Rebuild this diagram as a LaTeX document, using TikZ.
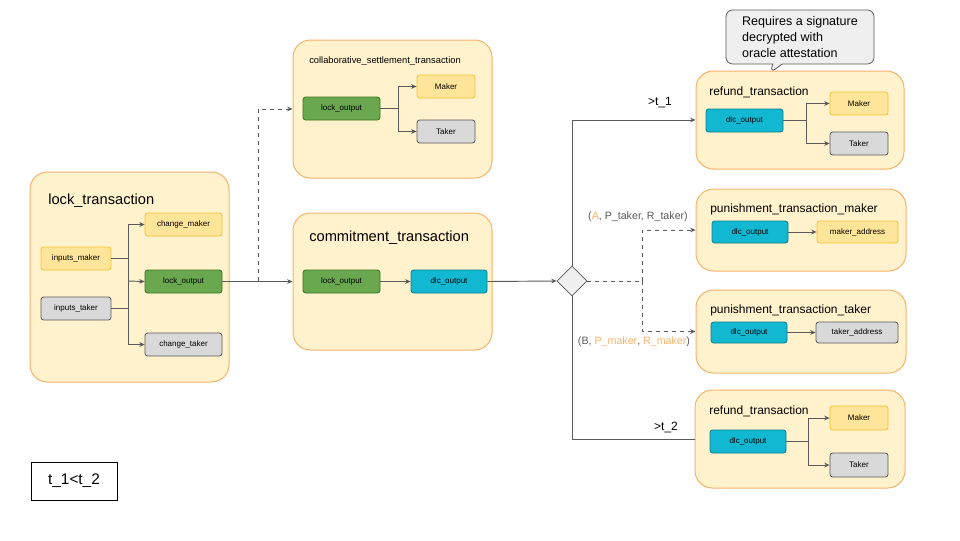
\documentclass[tikz,border=0pt]{standalone}
\usepackage{fontspec}
\setmainfont{Liberation Sans}
\usetikzlibrary{arrows.meta,fit,shapes.geometric,shapes.callouts}

\definecolor{txfill}{HTML}{FFF2CC}
\definecolor{txline}{HTML}{F6B26B}
\definecolor{yelfill}{HTML}{FFE599}
\definecolor{yelline}{HTML}{F1C232}
\definecolor{grayfill}{HTML}{D9D9D9}
\definecolor{darkline}{HTML}{595959}
\definecolor{greenfill}{HTML}{6AA84F}
\definecolor{greenline}{HTML}{38761D}
\definecolor{cyanfill}{HTML}{12B8D2}
\definecolor{cyanline}{HTML}{0B7E8E}
\definecolor{notefill}{HTML}{EFEFEF}

\begin{document}
\begin{tikzpicture}[x=0.75pt, y=-0.75pt,
    every label/.style={inner sep=0pt, font=\fontsize{6}{7}\selectfont},
    txbox/.style={draw=txline, fill=txfill, line width=0.75pt, rounded corners=13pt, inner sep=0pt},
    outbox/.style={rounded corners=2pt, line width=0.6pt, inner sep=0pt},
    yelbox/.style={outbox, draw=yelline, fill=yelfill},
    graybox/.style={outbox, draw=darkline, fill=grayfill},
    greenbox/.style={outbox, draw=greenline, fill=greenfill},
    cyanbox/.style={outbox, draw=cyanline, fill=cyanfill},
    bigtitle/.style={anchor=west, inner sep=0pt, font=\fontsize{11}{13}\selectfont},
    midtitle/.style={anchor=west, inner sep=0pt, font=\fontsize{9}{11}\selectfont},
    arr/.style={draw=darkline, line width=0.7pt, -{Stealth[length=4pt,width=3.5pt]}},
    plain/.style={draw=darkline, line width=0.7pt},
    cond/.style={inner sep=0pt, text=darkline, font=\fontsize{8}{10}\selectfont}
]
    \useasboundingbox (0,0) rectangle (960,540);

    % LEFT: lock transaction
    \node[txbox, fit={(30,172) (229,382)}] (lock) {};
    \node[bigtitle] (locktitle) at (48,201) {lock\_transaction};
    \node[yelbox, fit={(41,247) (111,270)}, label=center:inputs\_maker] (im) {};
    \node[graybox, fit={(41,297) (111,320)}, label=center:inputs\_taker] (it) {};
    \node[yelbox, fit={(145,213) (222,236)}, label=center:change\_maker] (cm) {};
    \node[greenbox, fit={(145,270) (222,293)}, label=center:lock\_output] (lo) {};
    \node[graybox, fit={(145,333) (222,356)}, label=center:change\_taker] (ct) {};
    \coordinate (lbr) at (128,281);
    \draw[plain] (im.east) -- (im.east -| lbr);
    \draw[plain] (it.east) -- (it.east -| lbr);
    \draw[arr] (lbr) |- (cm.west);
    \draw[arr] (lbr) -- (lo.west);
    \draw[arr] (lbr) |- (ct.west);

    % MIDDLE: collaborative settlement
    \node[txbox, fit={(293,40) (492,178)}] (collab) {};
    \node[anchor=west, inner sep=0pt, font=\fontsize{7}{8}\selectfont] (collabtitle) at (309,61) {collaborative\_settlement\_transaction};
    \node[greenbox, fit={(303,97) (380,120)}, label=center:lock\_output] (colo) {};
    \node[yelbox, fit={(417,75) (475,98)}, label=center:Maker] (comaker) {};
    \node[graybox, fit={(417,120) (475,143)}, label=center:Taker] (cotaker) {};
    \coordinate (cobr) at (398,108.5);
    \draw[plain] (colo.east) -- (cobr);
    \draw[arr] (cobr) |- (comaker.west);
    \draw[arr] (cobr) |- (cotaker.west);

    % MIDDLE: commitment
    \node[txbox, fit={(293,213) (492,350)}] (commit) {};
    \node[bigtitle] (committitle) at (309,238) {commitment\_transaction};
    \node[greenbox, fit={(303,270) (380,293)}, label=center:lock\_output] (cmlo) {};
    \node[cyanbox, fit={(411,270) (487,293)}, label=center:dlc\_output] (cmdlc) {};
    \draw[arr] (cmlo) -- (cmdlc);

    % lock -> commitment / collaborative
    \coordinate (dsplit) at (258,281);
    \draw[arr] (lo.east) -- (lo.east -| commit.west);
    \draw[arr, dashed] (dsplit) |- (collab.west);

    % decision
    \node[diamond, draw=darkline, fill=notefill, line width=0.6pt, inner sep=0pt,
          minimum width=22.5pt, minimum height=22.5pt] (dec) at (572,281) {};
    \draw[arr] (cmdlc.east) -- (dec.west);

    % RIGHT: refund 1
    \node[txbox, fit={(696,71) (904,169)}] (ref1) {};
    \node[midtitle] (ref1title) at (709,92) {refund\_transaction};
    \node[cyanbox, fit={(706,109) (783,132)}, label=center:dlc\_output] (r1dlc) {};
    \node[yelbox, fit={(830,92) (888,115)}, label=center:Maker] (r1maker) {};
    \node[graybox, fit={(830,132) (888,155)}, label=center:Taker] (r1taker) {};
    \coordinate (r1br) at (806,120.5);
    \draw[plain] (r1dlc.east) -- (r1br);
    \draw[arr] (r1br) |- (r1maker.west);
    \draw[arr] (r1br) |- (r1taker.west);

    % RIGHT: punishment maker
    \node[txbox, fit={(696,189) (906,271)}] (pm) {};
    \node[midtitle] (pmtitle) at (710,209) {punishment\_transaction\_maker};
    \node[cyanbox, fit={(712,221) (788,243)}, label=center:dlc\_output] (pmdlc) {};
    \node[yelbox, fit={(817,221) (898,243)}, label=center:maker\_address] (pmaddr) {};
    \draw[arr] (pmdlc) -- (pmaddr);

    % RIGHT: punishment taker
    \node[txbox, fit={(696,290) (906,373)}] (pt) {};
    \node[midtitle] (pttitle) at (710,310) {punishment\_transaction\_taker};
    \node[cyanbox, fit={(711,322) (787,343)}, label=center:dlc\_output] (ptdlc) {};
    \node[graybox, fit={(816,322) (898,343)}, label=center:taker\_address] (ptaddr) {};
    \draw[arr] (ptdlc) -- (ptaddr);

    % RIGHT: refund 2
    \node[txbox, fit={(695,390) (905,488)}] (ref2) {};
    \node[midtitle] (ref2title) at (709,411) {refund\_transaction};
    \node[cyanbox, fit={(710,430) (786,453)}, label=center:dlc\_output] (r2dlc) {};
    \node[yelbox, fit={(830,406) (888,430)}, label=center:Maker] (r2maker) {};
    \node[graybox, fit={(830,453) (888,477)}, label=center:Taker] (r2taker) {};
    \coordinate (r2br) at (808,441.5);
    \draw[plain] (r2dlc.east) -- (r2br);
    \draw[arr] (r2br) |- (r2maker.west);
    \draw[arr] (r2br) |- (r2taker.west);

    % decision -> outcomes
    \coordinate (psplit) at (642,281);
    \draw[arr] (dec.north) |- (ref1.west);
    \draw[plain] (dec.south) |- (ref2.west);
    \draw[plain, dashed] (dec.east) -- (psplit);
    \draw[arr, dashed] (psplit) |- (pm.west);
    \draw[arr, dashed] (psplit) |- (pt.west);
    \node[inner sep=0pt, font=\fontsize{9}{11}\selectfont] (t1) at (660,103) {>t\_1};
    \node[inner sep=0pt, font=\fontsize{9}{11}\selectfont] (t2) at (666,427) {>t\_2};
    \node[cond] (condA) at (638,217) {(\textcolor{txline}{A}, P\_taker, R\_taker)};
    \node[cond] (condB) at (634,342) {(B, \textcolor{txline}{P\_maker}, \textcolor{txline}{R\_maker})};

    % note on refund
    \node[rectangle callout, callout absolute pointer={(770,73)}, draw=darkline, fill=notefill,
          line width=0.6pt, rounded corners=5pt, minimum width=111pt, minimum height=40.5pt,
          align=left, font=\fontsize{9.4}{12}\selectfont] (note) at (800,37)
          {Requires a signature\\decrypted with\\oracle attestation};

    % time order
    \node[draw=black, line width=0.6pt, fit={(31,462) (117,500)}, inner sep=0pt,
          label={[font=\fontsize{11.5}{13}\selectfont]center:t\_1<t\_2}] (order) {};
\end{tikzpicture}
\end{document}
